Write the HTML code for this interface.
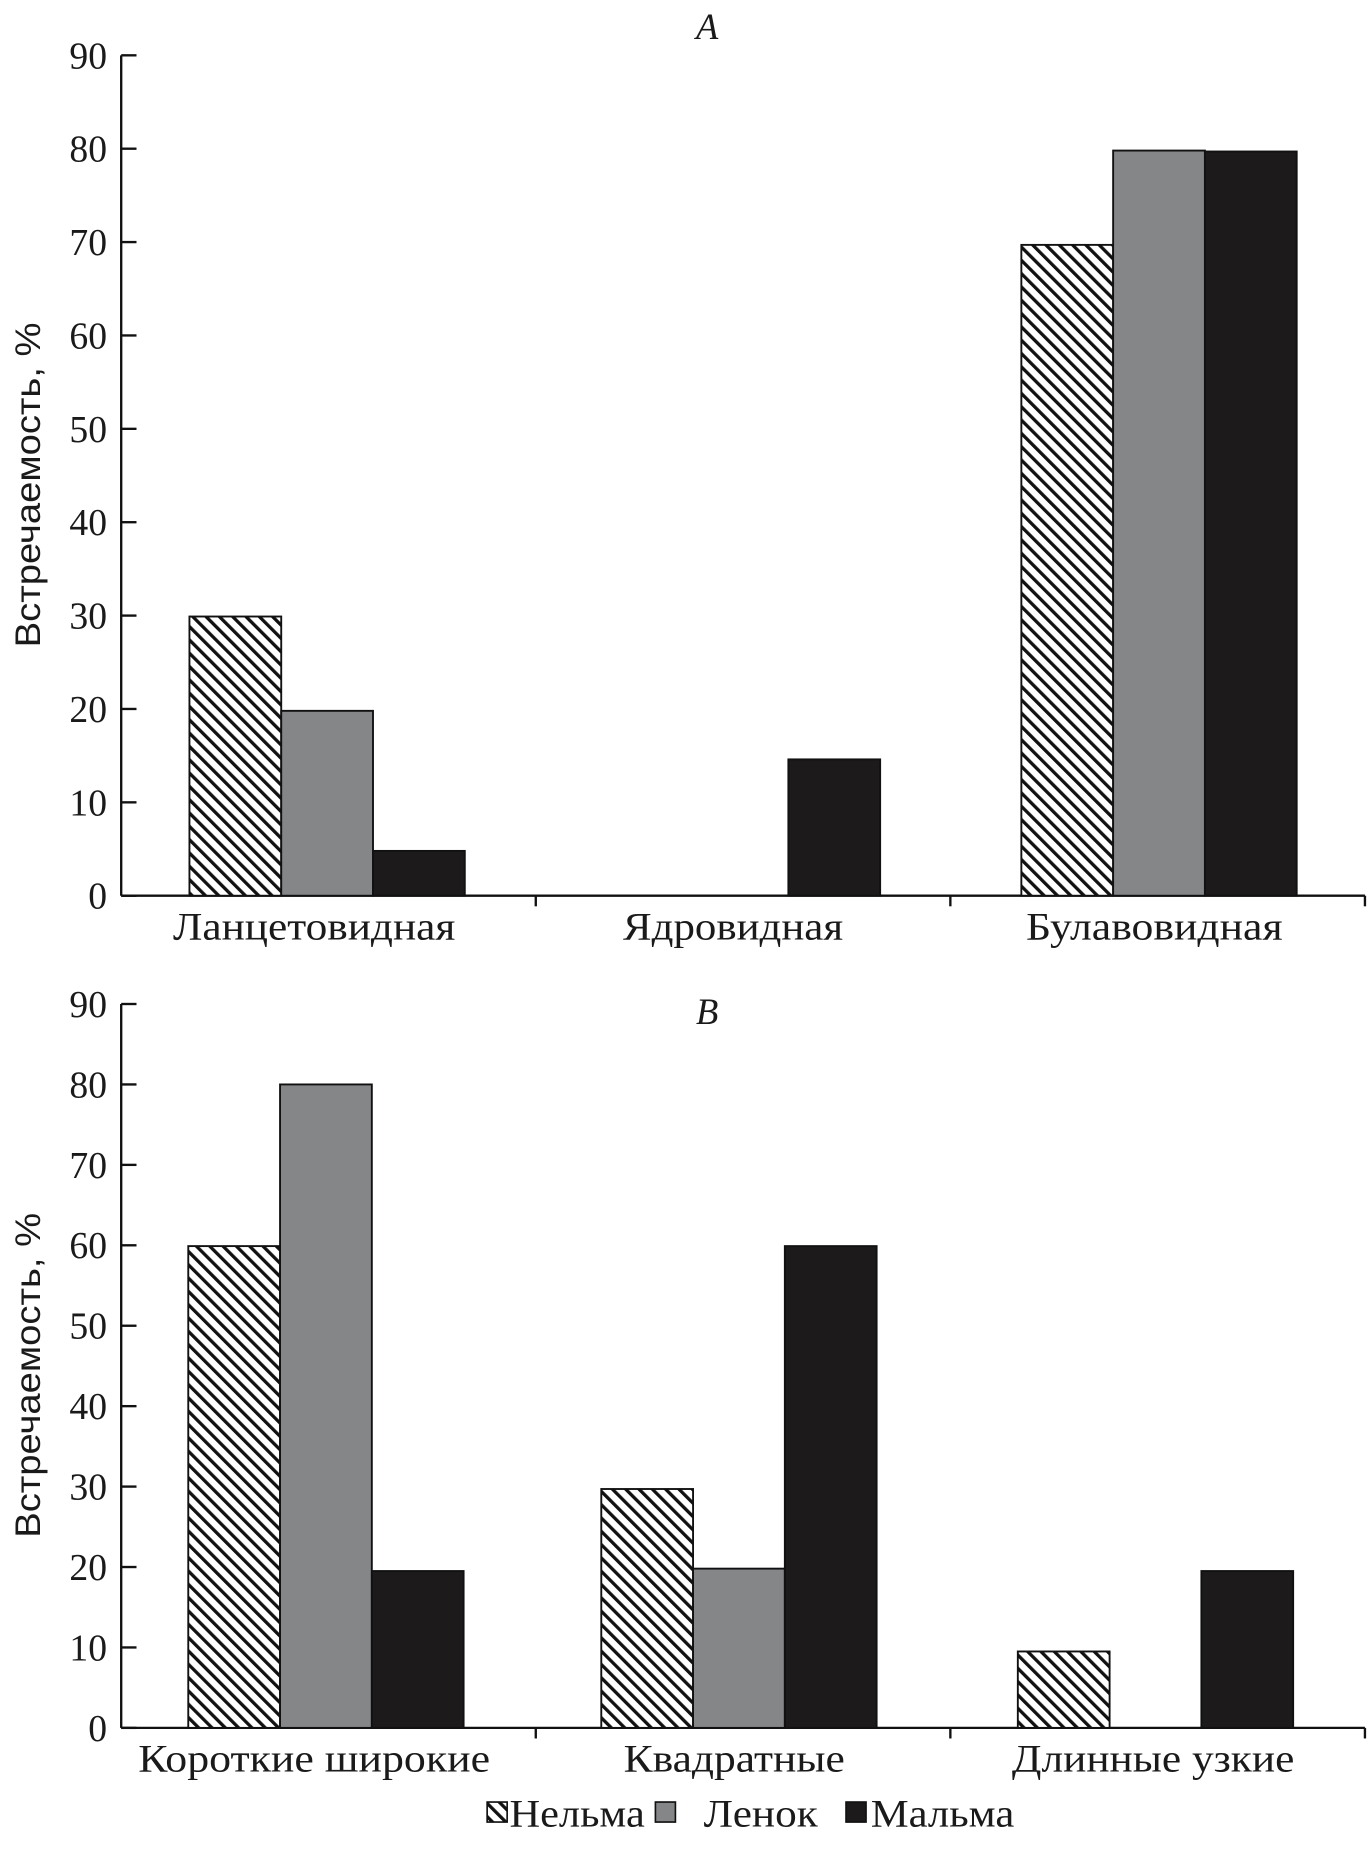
<!DOCTYPE html>
<html><head><meta charset="utf-8"><style>
html,body{margin:0;padding:0;background:#fff;}
svg{display:block;}
text{font-family:"Liberation Serif",serif;fill:#1a1a1a;}
</style></head><body>
<svg id="chart" width="1372" height="1855" viewBox="0 0 1166 1576" preserveAspectRatio="none" xmlns="http://www.w3.org/2000/svg">
<defs>
<pattern id="hatch" patternUnits="userSpaceOnUse" width="8" height="8" patternTransform="rotate(-45)">
<rect width="8" height="8" fill="#fff"/>
<rect x="0" y="0" width="2.8" height="8" fill="#111"/>
</pattern>
</defs>
<g id="root"></g>
</svg>
<script>
const categoriesA = ["Ланцетовидная", "Ядровидная", "Булавовидная"];
const nelmaA = [29.9, 0, 69.7];
const lenokA = [19.8, 0, 79.8];
const malmaA = [4.8, 14.6, 79.7];
const categoriesB = ["Короткие широкие", "Квадратные", "Длинные узкие"];
const nelmaB = [59.9, 29.7, 9.5];
const lenokB = [80, 19.8, 0];
const malmaB = [19.5, 59.9, 19.5];
const yTicks = [0, 10, 20, 30, 40, 50, 60, 70, 80, 90];
const seriesNames = ["Нельма", "Ленок", "Мальма"];

const NS = "http://www.w3.org/2000/svg";
const root = document.getElementById("root");
function mk(tag, attrs, parent) {
  const e = document.createElementNS(NS, tag);
  for (const k in attrs) e.setAttribute(k, attrs[k]);
  (parent || root).appendChild(e);
  return e;
}
const fills = ["url(#hatch)", "#858688", "#1c1a1b"];
const axisX = 103, xEnd = 1160, barW = 78;

function drawPanel(p, y0, y90, cats, series, title, titleY, centers, labelCenters, labelWidths) {
  const g = mk("g", {});
  
  
  const yScale = v => y0 - (v / 90) * (y0 - y90);
  const ya = mk("line", {x1: axisX, y1: y90, x2: axisX, y2: y0, stroke: "#111", "stroke-width": 2}, g);
  
  
  yTicks.forEach(t => {
    const y = yScale(t);
    const tk = mk("line", {x1: axisX, y1: y, x2: axisX + 13, y2: y, stroke: "#111", "stroke-width": 2}, g);
    
    
    const tl = mk("text", {x: 91, y: y + 11, "text-anchor": "end", "font-size": 32}, g);
    tl.textContent = t;
    
    
  });
  const xa = mk("line", {x1: axisX, y1: y0, x2: xEnd, y2: y0, stroke: "#111", "stroke-width": 2}, g);
  
  
  const gw = (xEnd - axisX) / 3;
  for (let i = 1; i <= 3; i++) {
    const x = axisX + gw * i;
    const s = mk("line", {x1: x, y1: y0, x2: x, y2: y0 + 9, stroke: "#111", "stroke-width": 2}, g);
    
    
  }
  cats.forEach((c, i) => {
    const cx = centers[i];
    series.forEach((vals, s) => {
      const v = vals[i];
      if (v <= 0) return;
      const x = cx - 117 + s * barW;
      const y = yScale(v);
      const r = mk("rect", {x: x, y: y, width: barW, height: y0 - y, fill: fills[s], stroke: "#111", "stroke-width": 1.6}, g);
      
      
    });
    const lb = mk("text", {x: labelCenters[i], y: y0 + 37, "text-anchor": "middle", "font-size": 33, textLength: labelWidths[i], lengthAdjust: "spacingAndGlyphs"}, g);
    lb.textContent = c;
    
    
  });
  const tt = mk("text", {x: 601, y: titleY, "text-anchor": "middle", "font-size": 31, "font-style": "italic"}, g);
  tt.textContent = title;
  
  
  const yt = mk("text", {x: 0, y: 0, "text-anchor": "middle", "font-size": 30, textLength: 276, lengthAdjust: "spacingAndGlyphs", transform: "translate(34," + ((y0 + y90) / 2 + 8) + ") rotate(-90)", style: "font-family:'Liberation Sans',sans-serif"}, g);
  yt.textContent = "Встречаемость, %";
  
  
}
drawPanel("a", 761, 47, categoriesA, [nelmaA, lenokA, malmaA], "A", 33, [278, 631, 985], [267, 623, 981], [240, 187, 218]);
drawPanel("b", 1468, 853, categoriesB, [nelmaB, lenokB, malmaB], "B", 870, [277, 628, 982], [267, 624, 980], [299, 188, 240]);

const lg = mk("g", {});


const lx = [414, 557, 719], tx = [433, 598, 740], tw = [115, 97, 122];
seriesNames.forEach((n, i) => {
  const r = mk("rect", {x: lx[i], y: 1531, width: 17, height: 17, fill: fills[i], stroke: "#111", "stroke-width": 1.4}, lg);
  
  
  const t = mk("text", {x: tx[i], y: 1552, "font-size": 33, textLength: tw[i], lengthAdjust: "spacingAndGlyphs"}, lg);
  t.textContent = n;
  
  
});
</script>
</body></html>
